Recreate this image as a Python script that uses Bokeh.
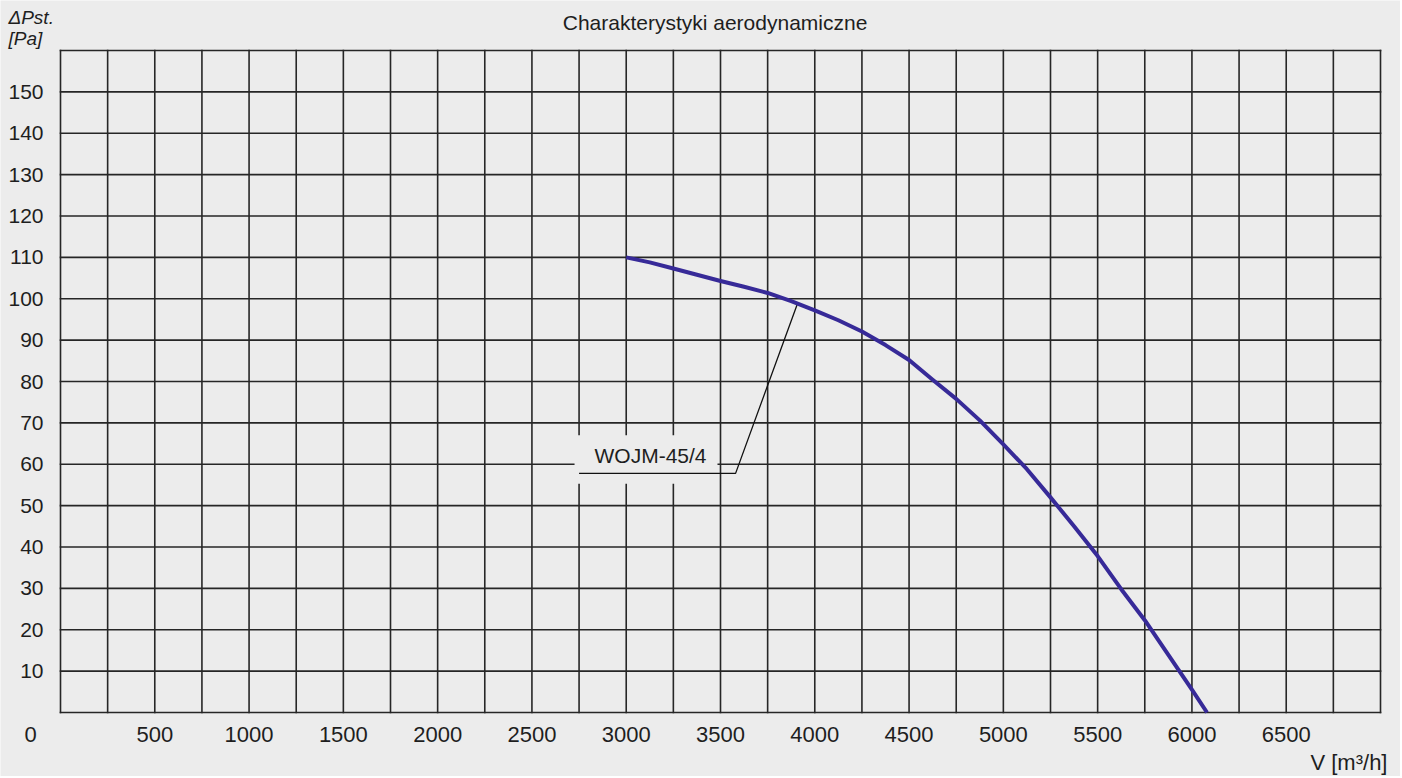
from bokeh.plotting import figure
from bokeh.models import FixedTicker, Label, Range1d
from bokeh.embed import file_html
from bokeh.resources import INLINE

# Data
flow = [3000, 3125, 3250, 3375, 3500, 3625, 3750, 3875, 4000, 4125, 4250, 4375, 4500,
        4625, 4750, 4875, 5000, 5125, 5250, 5375, 5500, 5625, 5750, 5875, 6000, 6080]
pressure = [110, 108.8, 107.3, 105.8, 104.3, 102.9, 101.4, 99.4, 97.2, 94.8, 92.1, 88.8, 85.2,
            80.4, 75.8, 70.6, 64.8, 58.8, 52.0, 45.0, 37.8, 29.8, 22.3, 13.9, 5.5, 0]
x_ticks = [500, 1000, 1500, 2000, 2500, 3000, 3500, 4000, 4500, 5000, 5500, 6000, 6500]
y_ticks = [10, 20, 30, 40, 50, 60, 70, 80, 90, 100, 110, 120, 130, 140, 150]
x_min, x_max = 0, 7000
y_min, y_max = 0, 160
x_grid = list(range(x_min, x_max + 1, 250))
y_grid = list(range(y_min, y_max + 1, 10))
series_name = "WOJM-45/4"

BG = "#ececec"
GRID = "#262626"
TXT = "#1e1e1e"
FONT = "Liberation Sans"

# canvas layout (pixels): grid box from (60,50) to (1380,712)
W, H = 1400, 776
L, T, R, B = 60, 50, 1380, 712
xs = (R - L) / (x_max - x_min)
ys = (B - T) / (y_max - y_min)
x_range = Range1d(x_min - L / xs, x_max + (W - R) / xs)
y_range = Range1d(y_min - (H - B) / ys, y_max + T / ys)

p = figure(width=W, height=H, output_backend="svg", toolbar_location=None,
           x_range=x_range, y_range=y_range,
           min_border_left=0, min_border_right=0, min_border_top=0, min_border_bottom=0)
p.background_fill_color = BG
p.border_fill_color = BG
p.outline_line_color = None
p.xgrid.visible = False
p.ygrid.visible = False

# grid box
p.segment(x0=x_grid, y0=[y_min] * len(x_grid), x1=x_grid, y1=[y_max] * len(x_grid),
          line_color=GRID, line_width=1.6, line_cap="square")
p.segment(x0=[x_min] * len(y_grid), y0=y_grid, x1=[x_max] * len(y_grid), y1=y_grid,
          line_color=GRID, line_width=1.6, line_cap="square")

p.xaxis.ticker = FixedTicker(ticks=x_ticks)
p.yaxis.ticker = FixedTicker(ticks=y_ticks)
p.xaxis.fixed_location = y_min
p.yaxis.fixed_location = x_min
for ax in (p.xaxis[0], p.yaxis[0]):
    ax.axis_line_color = None
    ax.major_tick_line_color = None
    ax.minor_tick_line_color = None
    ax.major_tick_out = 0
    ax.major_tick_in = 0
    ax.minor_tick_out = 0
    ax.minor_tick_in = 0
    ax.major_label_text_font = FONT
    ax.major_label_text_color = TXT
p.xaxis.major_label_text_font_size = "22px"
p.yaxis.major_label_text_font_size = "21px"
p.xaxis.major_label_standoff = 14
p.yaxis.major_label_standoff = 17

# label box masking the grid
p.quad(left=[2726], right=[3484], bottom=[55.3], top=[67.0],
       fill_color=BG, line_color=None)
# leader lines
p.line(x=[2750, 3580, 3909], y=[57.8, 57.8, 98.9], line_color="#111111", line_width=1.3)

# curve
p.line(x=flow, y=pressure, line_color="#372a98", line_width=4, line_join="round")


def add_label(**kw):
    p.add_layout(Label(text_font=FONT, text_color=TXT, text_baseline="middle", **kw))


add_label(x=3129, y=62.1, text=series_name, text_align="center", text_font_size="21px")
# title
add_label(x=3471, y=166.8, text="Charakterystyki aerodynamiczne",
          text_align="center", text_font_size="21px")
# y axis title
add_label(x=-276, y=168.0, text="\u0394Pst.", text_align="left",
          text_font_size="19px", text_font_style="italic")
add_label(x=-276, y=163.0, text="[Pa]", text_align="left",
          text_font_size="19px", text_font_style="italic")
# zero label at corner
add_label(x=-159, y=-5.3, text="0", text_align="center", text_font_size="22px")
# x axis title
add_label(x=7037, y=-12.0, text="V [m\u00b3/h]", text_align="right", text_font_size="22px")

open("out.html", "w").write(file_html(p, INLINE))
